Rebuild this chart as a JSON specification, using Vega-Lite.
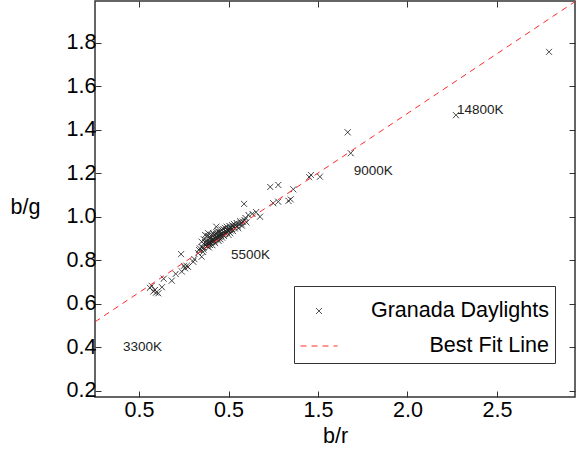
{
  "$schema": "https://vega.github.io/schema/vega-lite/v6.json",
  "width": 480,
  "height": 396,
  "autosize": {"type": "none"},
  "padding": {"left": 95, "top": 1, "right": 1, "bottom": 64},
  "background": "white",
  "datasets": {
    "pts": [
      {"br": 0.571, "bg": 0.683, "series": "Granada Daylights"},
      {"br": 0.580, "bg": 0.657, "series": "Granada Daylights"},
      {"br": 0.595, "bg": 0.652, "series": "Granada Daylights"},
      {"br": 0.561, "bg": 0.674, "series": "Granada Daylights"},
      {"br": 0.589, "bg": 0.664, "series": "Granada Daylights"},
      {"br": 0.608, "bg": 0.649, "series": "Granada Daylights"},
      {"br": 0.628, "bg": 0.677, "series": "Granada Daylights"},
      {"br": 0.638, "bg": 0.716, "series": "Granada Daylights"},
      {"br": 0.683, "bg": 0.707, "series": "Granada Daylights"},
      {"br": 0.705, "bg": 0.738, "series": "Granada Daylights"},
      {"br": 0.735, "bg": 0.829, "series": "Granada Daylights"},
      {"br": 0.739, "bg": 0.749, "series": "Granada Daylights"},
      {"br": 0.751, "bg": 0.775, "series": "Granada Daylights"},
      {"br": 0.757, "bg": 0.764, "series": "Granada Daylights"},
      {"br": 0.766, "bg": 0.775, "series": "Granada Daylights"},
      {"br": 0.774, "bg": 0.770, "series": "Granada Daylights"},
      {"br": 0.803, "bg": 0.794, "series": "Granada Daylights"},
      {"br": 0.809, "bg": 0.806, "series": "Granada Daylights"},
      {"br": 0.831, "bg": 0.833, "series": "Granada Daylights"},
      {"br": 0.835, "bg": 0.848, "series": "Granada Daylights"},
      {"br": 0.850, "bg": 0.817, "series": "Granada Daylights"},
      {"br": 0.858, "bg": 0.839, "series": "Granada Daylights"},
      {"br": 0.863, "bg": 0.897, "series": "Granada Daylights"},
      {"br": 0.882, "bg": 0.913, "series": "Granada Daylights"},
      {"br": 0.897, "bg": 0.871, "series": "Granada Daylights"},
      {"br": 0.869, "bg": 0.917, "series": "Granada Daylights"},
      {"br": 0.887, "bg": 0.925, "series": "Granada Daylights"},
      {"br": 0.897, "bg": 0.902, "series": "Granada Daylights"},
      {"br": 0.850, "bg": 0.886, "series": "Granada Daylights"},
      {"br": 0.915, "bg": 0.894, "series": "Granada Daylights"},
      {"br": 0.932, "bg": 0.955, "series": "Granada Daylights"},
      {"br": 0.962, "bg": 0.925, "series": "Granada Daylights"},
      {"br": 0.999, "bg": 0.940, "series": "Granada Daylights"},
      {"br": 0.840, "bg": 0.855, "series": "Granada Daylights"},
      {"br": 0.850, "bg": 0.862, "series": "Granada Daylights"},
      {"br": 0.860, "bg": 0.858, "series": "Granada Daylights"},
      {"br": 0.870, "bg": 0.870, "series": "Granada Daylights"},
      {"br": 0.875, "bg": 0.878, "series": "Granada Daylights"},
      {"br": 0.880, "bg": 0.866, "series": "Granada Daylights"},
      {"br": 0.885, "bg": 0.882, "series": "Granada Daylights"},
      {"br": 0.890, "bg": 0.874, "series": "Granada Daylights"},
      {"br": 0.895, "bg": 0.888, "series": "Granada Daylights"},
      {"br": 0.900, "bg": 0.880, "series": "Granada Daylights"},
      {"br": 0.905, "bg": 0.892, "series": "Granada Daylights"},
      {"br": 0.910, "bg": 0.884, "series": "Granada Daylights"},
      {"br": 0.915, "bg": 0.898, "series": "Granada Daylights"},
      {"br": 0.920, "bg": 0.890, "series": "Granada Daylights"},
      {"br": 0.925, "bg": 0.904, "series": "Granada Daylights"},
      {"br": 0.930, "bg": 0.896, "series": "Granada Daylights"},
      {"br": 0.935, "bg": 0.910, "series": "Granada Daylights"},
      {"br": 0.940, "bg": 0.902, "series": "Granada Daylights"},
      {"br": 0.945, "bg": 0.915, "series": "Granada Daylights"},
      {"br": 0.950, "bg": 0.908, "series": "Granada Daylights"},
      {"br": 0.955, "bg": 0.920, "series": "Granada Daylights"},
      {"br": 0.960, "bg": 0.912, "series": "Granada Daylights"},
      {"br": 0.965, "bg": 0.926, "series": "Granada Daylights"},
      {"br": 0.970, "bg": 0.918, "series": "Granada Daylights"},
      {"br": 0.975, "bg": 0.930, "series": "Granada Daylights"},
      {"br": 0.980, "bg": 0.924, "series": "Granada Daylights"},
      {"br": 0.985, "bg": 0.936, "series": "Granada Daylights"},
      {"br": 0.990, "bg": 0.929, "series": "Granada Daylights"},
      {"br": 0.995, "bg": 0.940, "series": "Granada Daylights"},
      {"br": 1.000, "bg": 0.934, "series": "Granada Daylights"},
      {"br": 1.005, "bg": 0.946, "series": "Granada Daylights"},
      {"br": 1.010, "bg": 0.938, "series": "Granada Daylights"},
      {"br": 1.015, "bg": 0.950, "series": "Granada Daylights"},
      {"br": 1.020, "bg": 0.944, "series": "Granada Daylights"},
      {"br": 1.030, "bg": 0.955, "series": "Granada Daylights"},
      {"br": 1.035, "bg": 0.948, "series": "Granada Daylights"},
      {"br": 1.040, "bg": 0.960, "series": "Granada Daylights"},
      {"br": 1.050, "bg": 0.958, "series": "Granada Daylights"},
      {"br": 1.060, "bg": 0.966, "series": "Granada Daylights"},
      {"br": 1.070, "bg": 0.970, "series": "Granada Daylights"},
      {"br": 1.080, "bg": 0.978, "series": "Granada Daylights"},
      {"br": 1.090, "bg": 0.985, "series": "Granada Daylights"},
      {"br": 0.860, "bg": 0.850, "series": "Granada Daylights"},
      {"br": 0.870, "bg": 0.884, "series": "Granada Daylights"},
      {"br": 0.880, "bg": 0.892, "series": "Granada Daylights"},
      {"br": 0.890, "bg": 0.860, "series": "Granada Daylights"},
      {"br": 0.900, "bg": 0.905, "series": "Granada Daylights"},
      {"br": 0.910, "bg": 0.870, "series": "Granada Daylights"},
      {"br": 0.920, "bg": 0.915, "series": "Granada Daylights"},
      {"br": 0.925, "bg": 0.880, "series": "Granada Daylights"},
      {"br": 0.930, "bg": 0.922, "series": "Granada Daylights"},
      {"br": 0.940, "bg": 0.935, "series": "Granada Daylights"},
      {"br": 0.945, "bg": 0.890, "series": "Granada Daylights"},
      {"br": 0.950, "bg": 0.930, "series": "Granada Daylights"},
      {"br": 0.955, "bg": 0.897, "series": "Granada Daylights"},
      {"br": 0.960, "bg": 0.942, "series": "Granada Daylights"},
      {"br": 0.965, "bg": 0.905, "series": "Granada Daylights"},
      {"br": 0.970, "bg": 0.945, "series": "Granada Daylights"},
      {"br": 0.975, "bg": 0.912, "series": "Granada Daylights"},
      {"br": 0.980, "bg": 0.950, "series": "Granada Daylights"},
      {"br": 0.990, "bg": 0.955, "series": "Granada Daylights"},
      {"br": 1.000, "bg": 0.918, "series": "Granada Daylights"},
      {"br": 1.005, "bg": 0.958, "series": "Granada Daylights"},
      {"br": 1.010, "bg": 0.925, "series": "Granada Daylights"},
      {"br": 1.020, "bg": 0.962, "series": "Granada Daylights"},
      {"br": 1.025, "bg": 0.935, "series": "Granada Daylights"},
      {"br": 1.030, "bg": 0.968, "series": "Granada Daylights"},
      {"br": 1.045, "bg": 0.972, "series": "Granada Daylights"},
      {"br": 1.055, "bg": 0.948, "series": "Granada Daylights"},
      {"br": 1.065, "bg": 0.980, "series": "Granada Daylights"},
      {"br": 1.075, "bg": 0.960, "series": "Granada Daylights"},
      {"br": 1.095, "bg": 0.995, "series": "Granada Daylights"},
      {"br": 1.100, "bg": 0.975, "series": "Granada Daylights"},
      {"br": 0.905, "bg": 0.918, "series": "Granada Daylights"},
      {"br": 0.915, "bg": 0.925, "series": "Granada Daylights"},
      {"br": 0.935, "bg": 0.928, "series": "Granada Daylights"},
      {"br": 1.087, "bg": 1.060, "series": "Granada Daylights"},
      {"br": 1.111, "bg": 1.009, "series": "Granada Daylights"},
      {"br": 1.133, "bg": 1.014, "series": "Granada Daylights"},
      {"br": 1.154, "bg": 1.022, "series": "Granada Daylights"},
      {"br": 1.176, "bg": 1.001, "series": "Granada Daylights"},
      {"br": 1.233, "bg": 1.138, "series": "Granada Daylights"},
      {"br": 1.278, "bg": 1.147, "series": "Granada Daylights"},
      {"br": 1.250, "bg": 1.063, "series": "Granada Daylights"},
      {"br": 1.278, "bg": 1.070, "series": "Granada Daylights"},
      {"br": 1.362, "bg": 1.127, "series": "Granada Daylights"},
      {"br": 1.347, "bg": 1.081, "series": "Granada Daylights"},
      {"br": 1.335, "bg": 1.074, "series": "Granada Daylights"},
      {"br": 1.451, "bg": 1.183, "series": "Granada Daylights"},
      {"br": 1.461, "bg": 1.193, "series": "Granada Daylights"},
      {"br": 1.511, "bg": 1.185, "series": "Granada Daylights"},
      {"br": 1.666, "bg": 1.389, "series": "Granada Daylights"},
      {"br": 1.683, "bg": 1.293, "series": "Granada Daylights"},
      {"br": 2.271, "bg": 1.468, "series": "Granada Daylights"},
      {"br": 2.791, "bg": 1.759, "series": "Granada Daylights"}
    ],
    "fit": [
      {"br": 0.254, "bg": 0.5175, "series": "Best Fit Line"},
      {"br": 2.936, "bg": 1.990, "series": "Best Fit Line"}
    ],
    "labels": [
      {"br": 0.41, "bg": 0.402, "label": "3300K"},
      {"br": 1.014, "bg": 0.825, "label": "5500K"},
      {"br": 1.70, "bg": 1.211, "label": "9000K"},
      {"br": 2.276, "bg": 1.492, "label": "14800K"}
    ]
  },
  "config": {
    "font": "Liberation Sans",
    "view": {"stroke": "#333333", "strokeWidth": 1.5},
    "axis": {
      "domain": false,
      "grid": false,
      "tickColor": "#333333",
      "tickSize": -6,
      "tickWidth": 1,
      "labelFontSize": 21.5,
      "labelColor": "black",
      "titleFontSize": 21.5,
      "titleFontWeight": "normal",
      "titleColor": "black"
    }
  },
  "resolve": {"axis": {"x": "independent", "y": "independent"}},
  "layer": [
    {
      "data": {"name": "pts"},
      "mark": {"type": "point", "filled": false, "size": 1400, "strokeWidth": 1, "opacity": 1},
      "encoding": {
        "x": {
          "field": "br", "type": "quantitative",
          "scale": {"domain": [0.254, 2.936], "nice": false, "zero": false},
          "axis": {"orient": "bottom", "values": [0.5, 1, 1.5, 2, 2.5], "labelExpr": "datum.value == 1 ? '0.5' : format(datum.value, '.1f')", "title": "b/r", "labelPadding": 8, "titlePadding": 5}
        },
        "y": {
          "field": "bg", "type": "quantitative",
          "scale": {"domain": [0.172, 1.993], "nice": false, "zero": false},
          "axis": {"orient": "left", "values": [0.2, 0.4, 0.6, 0.8, 1.0, 1.2, 1.4, 1.6, 1.8], "format": ".1f", "title": "b/g", "labelPadding": 5, "titleAngle": 0, "titleAlign": "center", "titleBaseline": "middle", "titleX": -70, "titleY": 206}
        },
        "color": {
          "field": "series", "type": "nominal",
          "scale": {"domain": ["Granada Daylights", "Best Fit Line"], "range": ["#222222", "#ff2a2a"]},
          "legend": {
            "orient": "none", "legendX": 199, "legendY": 285, "title": null,
            "fillColor": "white", "strokeColor": "#333333", "padding": 6,
            "symbolSize": 1369, "symbolStrokeWidth": 1,
            "labelFontSize": 21.5, "labelColor": "black", "labelAlign": "right", "labelOffset": 211, "labelLimit": 400,
            "rowPadding": 5
          }
        },
        "shape": {
          "field": "series", "type": "nominal",
          "scale": {"domain": ["Granada Daylights", "Best Fit Line"], "range": ["M-0.16,-0.16L0.16,0.16M0.16,-0.16L-0.16,0.16", "stroke"]}
        },
        "strokeDash": {
          "field": "series", "type": "nominal",
          "scale": {"domain": ["Granada Daylights", "Best Fit Line"], "range": [[1, 0], [6, 5]]}
        }
      }
    },
    {
      "data": {"name": "fit"},
      "mark": {"type": "line", "strokeWidth": 1, "clip": true},
      "encoding": {
        "x": {"field": "br", "type": "quantitative", "axis": {"orient": "top", "values": [0.5, 1, 1.5, 2, 2.5], "labels": false, "title": null}},
        "y": {"field": "bg", "type": "quantitative", "axis": {"orient": "right", "values": [0.2, 0.4, 0.6, 0.8, 1.0, 1.2, 1.4, 1.6, 1.8], "labels": false, "title": null}},
        "color": {"field": "series", "type": "nominal"},
        "strokeDash": {"field": "series", "type": "nominal"}
      }
    },
    {
      "data": {"name": "labels"},
      "mark": {"type": "text", "align": "left", "baseline": "middle", "fontSize": 13.5, "color": "#222222"},
      "encoding": {
        "x": {"field": "br", "type": "quantitative", "axis": null},
        "y": {"field": "bg", "type": "quantitative", "axis": null},
        "text": {"field": "label", "type": "nominal"}
      }
    }
  ]
}
